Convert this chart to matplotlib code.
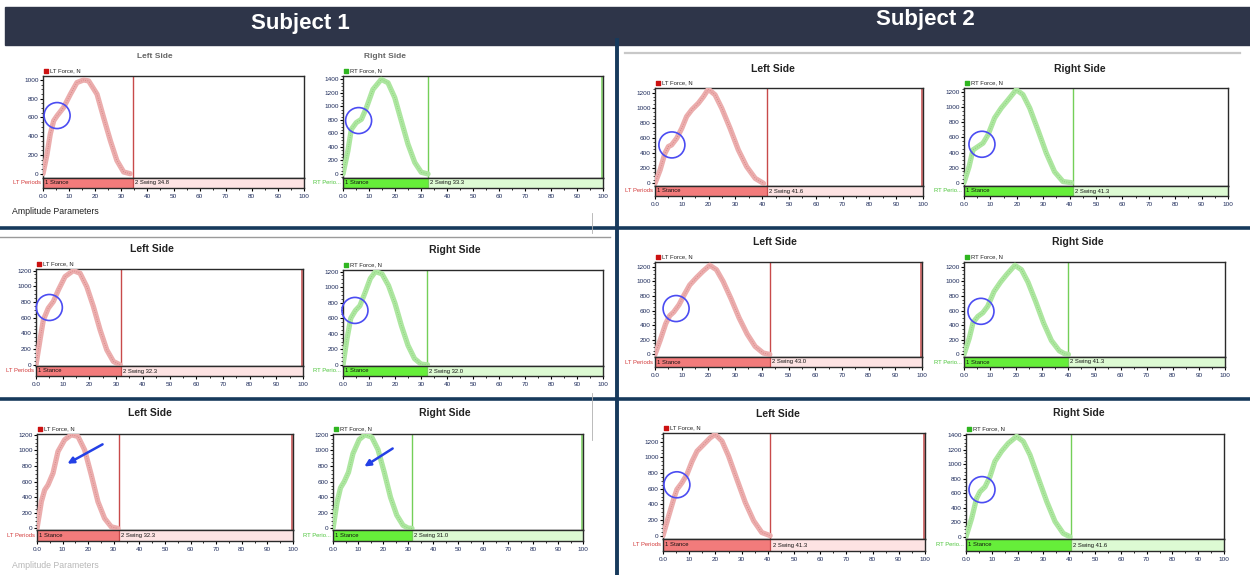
import matplotlib
matplotlib.use("Agg")
import matplotlib.pyplot as plt
from matplotlib.patches import Rectangle, Ellipse, FancyArrowPatch
from matplotlib.lines import Line2D
from matplotlib.ticker import MultipleLocator

plt.rcParams['font.family'] = ['Liberation Sans', 'DejaVu Sans']

# ---------------- data ----------------
subjects = ["Subject 1", "Subject 2"]
side_titles = ["Left Side", "Right Side"]
x_tick_labels = ["0.0", "10", "20", "30", "40", "50", "60", "70", "80", "90", "100"]

# Subject 1
s1_row1_left_pct = [0, 1.5, 2.8, 4.1, 5.4, 7.9, 10.5, 13.0, 15.6, 17.5, 20.7, 23.2, 25.8, 28.3, 30.9, 33.4]
s1_row1_left_force = [0, 200, 424, 565, 618, 707, 848, 972, 1000, 989, 848, 601, 353, 141, 18, 0]
s1_row1_right_pct = [0, 1.9, 3.2, 5.1, 7.1, 9.0, 11.5, 14.7, 17.3, 19.9, 22.4, 25.0, 27.6, 30.1, 32.7]
s1_row1_right_force = [0, 345, 660, 760, 810, 980, 1250, 1400, 1350, 1130, 790, 440, 170, 25, 0]
s1_row2_left_pct = [0, 1.5, 2.75, 4.6, 6.5, 8.4, 10.9, 14.0, 16.5, 19.0, 21.5, 24.0, 26.5, 29.0, 31.5]
s1_row2_left_force = [0, 318, 572, 721, 806, 954, 1124, 1200, 1166, 996, 742, 445, 191, 42, 0]
s1_row2_right_pct = [0, 1.5, 3.0, 4.8, 6.5, 8.5, 10.5, 12.5, 15.0, 17.5, 20.0, 22.5, 25.0, 27.5, 30.0, 32.5]
s1_row2_right_force = [0, 330, 600, 700, 760, 930, 1110, 1200, 1170, 1020, 790, 500, 250, 80, 10, 0]
s1_row3_left_pct = [0, 1.7, 3.0, 4.3, 6.25, 8.2, 10.8, 13.4, 16.0, 18.6, 21.2, 23.8, 26.4, 29.0, 31.6]
s1_row3_left_force = [0, 343, 493, 557, 707, 986, 1136, 1200, 1179, 1007, 686, 343, 129, 21, 0]
s1_row3_right_pct = [0, 1.6, 3.0, 4.5, 6.2, 8.0, 10.5, 12.8, 15.5, 18.0, 20.5, 23.0, 25.5, 28.0, 30.0, 31.6]
s1_row3_right_force = [0, 330, 520, 600, 720, 960, 1140, 1200, 1170, 1010, 720, 400, 170, 40, 5, 0]

# Subject 2
s2_row1_left_pct = [0, 1.9, 3.7, 5.0, 6.2, 8.1, 10.0, 11.8, 13.7, 16.2, 18.1, 19.9, 22.4, 24.9, 28.0, 31.1, 34.2, 37.4, 40.5]
s2_row1_left_force = [0, 177, 399, 488, 510, 598, 731, 887, 975, 1064, 1152, 1250, 1175, 997, 731, 443, 222, 66, 0]
s2_row1_right_pct = [0, 1.9, 3.4, 5.3, 7.2, 9.1, 11.6, 14.1, 16.7, 19.8, 22.3, 24.9, 28.0, 31.2, 34.3, 37.5, 40.7]
s2_row1_right_force = [0, 210, 435, 480, 525, 635, 860, 990, 1100, 1235, 1170, 990, 700, 390, 145, 15, 0]
s2_row2_left_pct = [0, 2, 4, 5.5, 7, 9, 11, 13, 15.5, 18, 20.5, 23, 25.5, 28.5, 31.5, 34.5, 37.5, 40.5, 43]
s2_row2_left_force = [0, 200, 420, 530, 580, 680, 820, 950, 1050, 1140, 1220, 1160, 1000, 760, 500, 280, 110, 20, 0]
s2_row2_right_pct = [0, 2, 3.5, 5.3, 7.2, 9.1, 11.5, 14, 16.5, 19.5, 22, 24.5, 27.5, 30.5, 33.5, 36.5, 38.5, 40]
s2_row2_right_force = [0, 220, 440, 520, 570, 660, 860, 990, 1100, 1220, 1160, 990, 720, 430, 190, 50, 10, 0]
s2_row3_left_pct = [0, 2.2, 4.1, 5.3, 7.2, 9.1, 11.1, 13.0, 15.5, 18.0, 19.9, 22.5, 25.0, 28.2, 31.4, 34.6, 37.7, 40.9]
s2_row3_left_force = [0, 255, 470, 590, 675, 780, 950, 1080, 1165, 1250, 1295, 1210, 1020, 720, 425, 190, 40, 0]
s2_row3_right_pct = [0, 2.2, 4.1, 5.4, 7.4, 9.3, 11.2, 13.8, 16.4, 19.6, 22.2, 24.8, 28.0, 31.3, 34.5, 37.7, 40.3]
s2_row3_right_force = [0, 254, 530, 620, 690, 830, 1040, 1180, 1290, 1385, 1315, 1130, 810, 485, 210, 45, 0]

# stance end (%) and swing labels, panel order: S1 r1L r1R r2L r2R r3L r3R, S2 r1L r1R r2L r2R r3L r3R
stance_ends = [34.5, 32.7, 31.8, 32.3, 32.0, 31.6, 41.8, 41.3, 43.0, 40.0, 41.0, 40.7]
swing_labels = ["2 Swing 34.8", "2 Swing 33.3", "2 Swing 32.3", "2 Swing 32.0", "2 Swing 32.3", "2 Swing 31.0",
                "2 Swing 41.6", "2 Swing 41.3", "2 Swing 43.0", "2 Swing 41.3", "2 Swing 41.3", "2 Swing 41.6"]
y_max_ticks = [1000, 1400, 1200, 1200, 1200, 1200, 1200, 1200, 1200, 1200, 1200, 1400]

series = [
    (s1_row1_left_pct, s1_row1_left_force), (s1_row1_right_pct, s1_row1_right_force),
    (s1_row2_left_pct, s1_row2_left_force), (s1_row2_right_pct, s1_row2_right_force),
    (s1_row3_left_pct, s1_row3_left_force), (s1_row3_right_pct, s1_row3_right_force),
    (s2_row1_left_pct, s2_row1_left_force), (s2_row1_right_pct, s2_row1_right_force),
    (s2_row2_left_pct, s2_row2_left_force), (s2_row2_right_pct, s2_row2_right_force),
    (s2_row3_left_pct, s2_row3_left_force), (s2_row3_right_pct, s2_row3_right_force),
]

# ---------------- layout (pixels) ----------------
W, H = 1250, 575
layout = [
    dict(box=(43, 76, 304, 178), bar=188, ylim=(-46, 1042), title=(155, 57), circ=(5.4, 620), edge=False, tstyle='faded'),
    dict(box=(343, 76, 603, 178), bar=188, ylim=(-60, 1450), title=(385, 57), circ=(6.0, 790), edge=True, tstyle='faded'),
    dict(box=(36, 269, 303, 366), bar=376, ylim=(-15, 1220), title=(152, 249), circ=(5.0, 730), edge=True, tstyle='bold'),
    dict(box=(343, 270, 603, 366), bar=376, ylim=(-15, 1220), title=(455, 250), circ=(4.6, 700), edge=False, tstyle='bold'),
    dict(box=(37, 434, 293, 530), bar=541, ylim=(-20, 1210), title=(150, 413), circ=None, edge=True, tstyle='bold'),
    dict(box=(333, 434, 583, 530), bar=541, ylim=(-20, 1210), title=(445, 413), circ=None, edge=True, tstyle='bold'),
    dict(box=(655, 88, 923, 186), bar=196, ylim=(-35, 1265), title=(773, 69), circ=(6.3, 510), edge=True, tstyle='bold'),
    dict(box=(964, 88, 1228, 186), bar=196, ylim=(-44, 1257), title=(1080, 69), circ=(6.8, 510), edge=False, tstyle='bold'),
    dict(box=(655, 262, 922, 357), bar=367, ylim=(-35, 1265), title=(775, 242), circ=(7.9, 628), edge=True, tstyle='bold'),
    dict(box=(964, 262, 1225, 357), bar=367, ylim=(-35, 1265), title=(1078, 242), circ=(6.5, 590), edge=False, tstyle='bold'),
    dict(box=(663, 433, 925, 539), bar=551, ylim=(-43, 1312), title=(778, 414), circ=(5.3, 650), edge=True, tstyle='bold'),
    dict(box=(966, 434, 1224, 539), bar=551, ylim=(-32, 1418), title=(1079, 413), circ=(6.2, 650), edge=False, tstyle='bold'),
]
arrows = [((105, 443), (65, 465)), ((395, 447), (362, 468))]

STYLE = {
    'L': dict(band='#ebadad', dot='#cf6a6a', vline='#c84a4a', stance='#f27b7b', swing='#fde3e3',
              label='LT Periods', label_color='#d33a3a', legend='LT Force, N', legend_color='#cc1111'),
    'R': dict(band='#ade6a0', dot='#70c85a', vline='#74cf58', stance='#66ee3a', swing='#ddfad3',
              label='RT Perio...', label_color='#4cc43a', legend='RT Force, N', legend_color='#2fb520'),
}

fig = plt.figure(figsize=(W / 100, H / 100), dpi=100)
fig.patch.set_facecolor('white')


def fx(x):
    return x / W


def fy(y):
    return 1 - y / H


def hline(y, x0, x1, color, lw):
    fig.add_artist(Line2D([fx(x0), fx(x1)], [fy(y), fy(y)], transform=fig.transFigure, color=color, lw=lw, zorder=20))


def vline(x, y0, y1, color, lw):
    fig.add_artist(Line2D([fx(x), fx(x)], [fy(y0), fy(y1)], transform=fig.transFigure, color=color, lw=lw, zorder=20))


# header bar
fig.add_artist(Rectangle((fx(5), fy(45)), fx(1250) - fx(5), (45 - 7) / H, transform=fig.transFigure,
                         color='#2e3549', zorder=15))
fig.text(fx(300), fy(24), subjects[0], ha='center', va='center', color='white', fontsize=16,
         fontweight='bold', zorder=21)
fig.text(fx(925), fy(20), subjects[1], ha='center', va='center', color='white', fontsize=16,
         fontweight='bold', zorder=21)

# separators
navy = '#173a5c'
vline(617, 40, 575, navy, 2.8)
hline(228, 0, 617, navy, 2.6)
hline(399, 0, 617, navy, 2.6)
hline(228, 617, 1250, navy, 2.6)
hline(399, 617, 1250, navy, 2.6)
hline(237, 0, 610, '#9a9a9a', 1.0)
hline(53, 625, 1240, '#c8c8c8', 1.6)
vline(592, 213, 233, '#b0b0b0', 0.6)
vline(592, 393, 440, '#b0b0b0', 0.6)

fig.text(fx(12), fy(212), "Amplitude Parameters", fontsize=6.3, color='#222222', va='center', ha='left')
fig.text(fx(12), fy(566), "Amplitude Parameters", fontsize=6.3, color='#888888', va='center', ha='left', alpha=0.6)

for i, ((pct, force), lay) in enumerate(zip(series, layout)):
    side = 'L' if i % 2 == 0 else 'R'
    st = STYLE[side]
    l, t, r, b = lay['box']
    bb = lay['bar']
    stance = stance_ends[i]

    ax = fig.add_axes([fx(l), fy(b), (r - l) / W, (b - t) / H])
    ax.plot(pct, force, color=st['band'], lw=3.8, solid_capstyle='round', solid_joinstyle='round', zorder=3)
    ax.plot(pct, force, color=st['dot'], lw=0.55, ls=(0, (1, 2)), alpha=0.8, zorder=4)
    ax.axvline(stance, color=st['vline'], lw=1.0, zorder=2)
    if lay['edge']:
        ax.axvline(99.6, color=st['vline'], lw=1.1, zorder=2)
    ax.set_xlim(0, 100)
    ax.set_ylim(*lay['ylim'])
    ax.set_xticks([])
    ax.set_yticks(list(range(0, y_max_ticks[i] + 1, 200)))
    ax.yaxis.set_minor_locator(MultipleLocator(50))
    ax.tick_params(axis='y', which='major', length=2.2, width=0.8, labelsize=4.6, pad=1, labelcolor='#1c2a5a')
    ax.tick_params(axis='y', which='minor', length=1.1, width=0.5)
    for s in ax.spines.values():
        s.set_color('#2a2a2a')
        s.set_linewidth(1.0)

    # legend entry above the box
    ax.scatter([0.012], [1.05], transform=ax.transAxes, marker='s', s=5, color=st['legend_color'], clip_on=False)
    ax.text(0.026, 1.05, st['legend'], transform=ax.transAxes, fontsize=4.2, va='center', ha='left', color='#222222')

    # period bar
    bx = fig.add_axes([fx(l), fy(bb), (r - l) / W, (bb - b) / H])
    bx.set_xlim(0, 100)
    bx.set_ylim(0, 1)
    bx.add_patch(Rectangle((0, 0), stance, 1, color=st['stance'], lw=0))
    bx.add_patch(Rectangle((stance, 0), 100 - stance, 1, color=st['swing'], lw=0))
    bx.axvline(stance, color=st['vline'], lw=0.9)
    bx.text(0.8, 0.5, "1 Stance", fontsize=4.2, va='center', ha='left', color='#111111')
    bx.text(stance + 0.8, 0.5, swing_labels[i], fontsize=4.2, va='center', ha='left', color='#111111')
    bx.text(-0.008, 0.5, st['label'], transform=bx.transAxes, fontsize=4.2, va='center', ha='right',
            color=st['label_color'])
    bx.set_yticks([])
    bx.set_xticks(list(range(0, 101, 10)))
    bx.set_xticklabels(x_tick_labels)
    bx.xaxis.set_minor_locator(MultipleLocator(5))
    bx.tick_params(axis='x', which='major', length=2.2, width=0.8, labelsize=4.6, pad=2, labelcolor='#1c2a5a')
    bx.tick_params(axis='x', which='minor', length=1.5, width=0.6)
    for s in bx.spines.values():
        s.set_color('#2a2a2a')
        s.set_linewidth(1.0)

    # title
    tx, ty = lay['title']
    if lay['tstyle'] == 'faded':
        fig.text(fx(tx), fy(ty), side_titles[i % 2], ha='center', va='center', fontsize=6, color='#666666',
                 fontweight='bold')
    else:
        fig.text(fx(tx), fy(ty), side_titles[i % 2], ha='center', va='center', fontsize=7.5, color='#222222',
                 fontweight='bold')

    # blue circle marking the shoulder
    if lay['circ'] is not None:
        px, py = ax.transData.transform(lay['circ'])
        rad = 13
        fig.add_artist(Ellipse((px / W, py / H), 2 * rad / W, 2 * rad / H, transform=fig.transFigure,
                               fill=False, edgecolor='#4b4cf2', lw=1.2, zorder=30))

for (x0, y0), (x1, y1) in arrows:
    fig.add_artist(FancyArrowPatch((fx(x0), fy(y0)), (fx(x1), fy(y1)),
                                   transform=fig.transFigure, arrowstyle='-|>',
                                   mutation_scale=9, color='#2340e6', lw=1.8, zorder=30))

fig.savefig("out.png", dpi=100)
